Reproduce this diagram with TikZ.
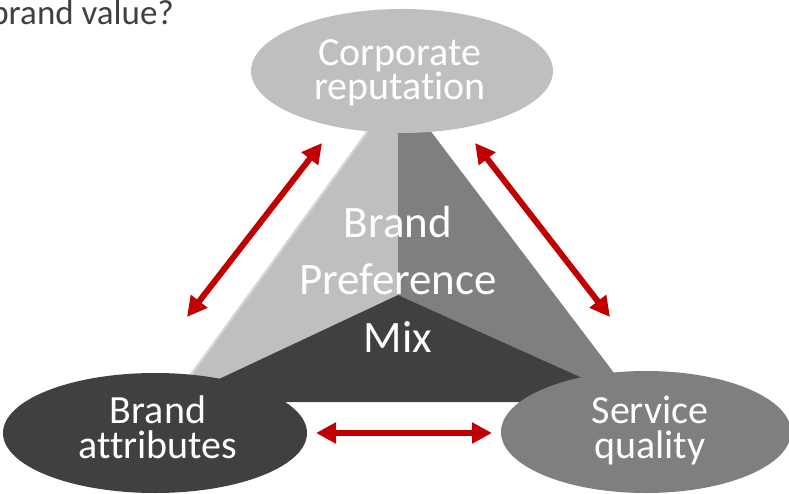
\documentclass[tikz,border=0pt]{standalone}
\usepackage{fontspec}
\setmainfont{Carlito}[Ligatures=NoCommon]
\usetikzlibrary{arrows.meta,shapes.geometric}
\definecolor{lightg}{HTML}{BFBFBF}
\definecolor{midg}{HTML}{7F7F7F}
\definecolor{darkg}{HTML}{404040}
\definecolor{arrowred}{HTML}{C00000}
\definecolor{edgeg}{HTML}{D6D6D6}
\newcommand{\tightlines}{\lineskiplimit=-100pt\relax}
\begin{document}
\begin{tikzpicture}[x=1pt,y=-1pt,
  oval/.style={ellipse, draw=none, inner sep=0pt},
  lbl/.style={text=white, anchor=base, inner sep=0pt, text width=230pt, align=center,
    font=\fontsize{40}{34.5}\selectfont\tightlines},
  midlbl/.style={lbl, font=\fontsize{45}{57.5}\selectfont\tightlines},
  link/.style={draw=arrowred, line width=6pt, {Triangle[length=20pt,width=20pt]}-{Triangle[length=20pt,width=20pt]}},
]
\useasboundingbox (0,0) rectangle (789,494);
\clip (0,0) rectangle (789,494);

% pyramid faces
\coordinate (apex) at (398,88);
\coordinate (inner) at (398,295);
\coordinate (bl) at (170,402);
\coordinate (br) at (636,402);
\fill[lightg] (apex) -- (inner) -- (bl) -- cycle;
\fill[midg] (apex) -- (inner) -- (br) -- cycle;
\fill[darkg] (inner) -- (bl) -- (br) -- cycle;
\begin{scope}
  \clip (apex) -- (inner) -- (bl) -- cycle;
  \draw[edgeg, line width=4pt] (apex) -- (bl);
\end{scope}

% ellipses
\node[oval, fill=lightg, minimum width=302pt, minimum height=124pt] (corp) at (402,71) {};
\node[oval, fill=darkg, minimum width=304pt, minimum height=120pt] (attr) at (155,433) {};
\node[oval, fill=midg, minimum width=290pt, minimum height=122pt] (serv) at (646,432) {};

% labels (anchor = baseline of first line)
\node[lbl] (corptext) at (400,65.5) {Corporate\\reputation};
\node[lbl] (attrtext) at (158,423.5) {Brand\\attributes};
\node[lbl] (servtext) at (650,423.5) {Service\\quality};
\node[midlbl] (midtext) at (398,237.5) {Brand\\Preference\\Mix};

\node[anchor=base east, text=darkg, inner sep=0pt, font=\fontsize{35}{42}\selectfont] (question) at (174,25) {brand value?};

% arrows
\coordinate (l1) at (187,317);
\coordinate (l2) at (322,143);
\coordinate (r1) at (475,143);
\coordinate (r2) at (610,317);
\coordinate (h1) at (316,433);
\coordinate (h2) at (492,433);
\draw[link] (l1) -- (l2);
\draw[link] (r1) -- (r2);
\draw[link] (h1) -- (h2);
\end{tikzpicture}
\end{document}
